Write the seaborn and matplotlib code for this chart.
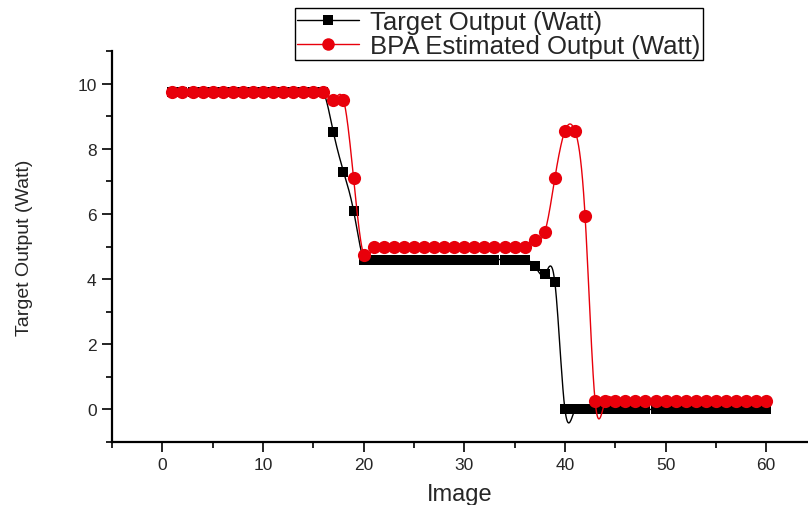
import numpy as np
import pandas as pd
import matplotlib
matplotlib.use("Agg")
import matplotlib.pyplot as plt
from matplotlib.lines import Line2D
from matplotlib.ticker import MultipleLocator
import seaborn as sns

# Image index 1..60
images = list(range(1, 61))

# Target output power per image (W)
target_output = (
    [9.75] * 16
    + [8.5, 7.3, 6.1]
    + [4.6] * 17
    + [4.4, 4.15, 3.9]
    + [0.0] * 21
)

# BPA network estimate per image (W)
bpa_output = (
    [9.75] * 16
    + [9.5, 9.5, 7.1, 4.75]
    + [5.0] * 16
    + [5.2, 5.45, 7.1, 8.55, 8.55, 5.95]
    + [0.25] * 18
)

series_names = ["Target Output (Watt)", "BPA Estimated Output (Watt)"]
series_colors = ["#000000", "#e8000b"]


def natural_spline(x, y, per_segment=20):
    """Smooth connector curve through the points (natural cubic spline)."""
    x = np.asarray(x, float)
    y = np.asarray(y, float)
    n = len(x)
    h = np.diff(x)
    A = np.zeros((n, n))
    r = np.zeros(n)
    A[0, 0] = A[-1, -1] = 1.0
    for i in range(1, n - 1):
        A[i, i - 1] = h[i - 1]
        A[i, i] = 2 * (h[i - 1] + h[i])
        A[i, i + 1] = h[i]
        r[i] = 3 * ((y[i + 1] - y[i]) / h[i] - (y[i] - y[i - 1]) / h[i - 1])
    c = np.linalg.solve(A, r)
    b = (y[1:] - y[:-1]) / h - h * (2 * c[:-1] + c[1:]) / 3
    d = (c[1:] - c[:-1]) / (3 * h)
    xs, ys = [], []
    for i in range(n - 1):
        t = np.linspace(0, h[i], per_segment, endpoint=(i == n - 2))
        xs.append(x[i] + t)
        ys.append(y[i] + b[i] * t + c[i] * t ** 2 + d[i] * t ** 3)
    return np.concatenate(xs), np.concatenate(ys)


sns.set_style("ticks")
plt.rcParams["font.family"] = ["Liberation Sans", "DejaVu Sans"]

fig = plt.figure(figsize=(8.08, 5.06), dpi=100)
ax = fig.add_axes([112 / 808, 1 - 443 / 506, 1 - 112 / 808, (443 - 52) / 506])

points = pd.DataFrame({"Image": images, "Target": target_output, "BPA": bpa_output})

markers = ["s", "o"]
sizes = [60, 90]
for col, color, mk, sz, z in zip(["Target", "BPA"], series_colors, markers, sizes, [2, 3]):
    sx, sy = natural_spline(points["Image"], points[col])
    curve = pd.DataFrame({"Image": sx, "value": sy})
    sns.lineplot(data=curve, x="Image", y="value", color=color, lw=1.0,
                 ax=ax, zorder=z, legend=False)
    sns.scatterplot(data=points, x="Image", y=col, color=color, marker=mk,
                    s=sz, linewidth=0, ax=ax, zorder=z + 0.5, legend=False)

ax.set_xlim(-5, 64.15)
ax.set_ylim(-1, 11)
ax.xaxis.set_major_locator(MultipleLocator(10))
ax.xaxis.set_minor_locator(MultipleLocator(5))
ax.yaxis.set_major_locator(MultipleLocator(2))
ax.yaxis.set_minor_locator(MultipleLocator(1))
ax.tick_params(which="major", direction="out", length=7, width=1.2,
               labelsize=12.5, color="black", pad=4)
ax.tick_params(which="minor", direction="out", length=4, width=1.2, color="black")

for side in ["top", "right"]:
    ax.spines[side].set_visible(False)
for side in ["left", "bottom"]:
    ax.spines[side].set_linewidth(1.6)
    ax.spines[side].set_color("black")

ax.set_xlabel("Image", fontsize=17, labelpad=8)
ax.set_ylabel("Target Output (Watt)", fontsize=14, labelpad=32)

handles = [
    Line2D([], [], color=series_colors[0], lw=1.0, marker="s", markersize=7,
           markeredgewidth=0),
    Line2D([], [], color=series_colors[1], lw=1.0, marker="o", markersize=9,
           markeredgewidth=0),
]
leg = fig.legend(handles, series_names, loc="upper left",
                 bbox_to_anchor=(295 / 808, 1 - 9 / 506), fontsize=18.5,
                 frameon=True, fancybox=False, framealpha=1, edgecolor="black",
                 borderpad=0.08, labelspacing=0.0, handlelength=2.4,
                 handletextpad=0.45, borderaxespad=0)
leg.get_frame().set_linewidth(1.0)

fig.savefig("out.png", dpi=100)
